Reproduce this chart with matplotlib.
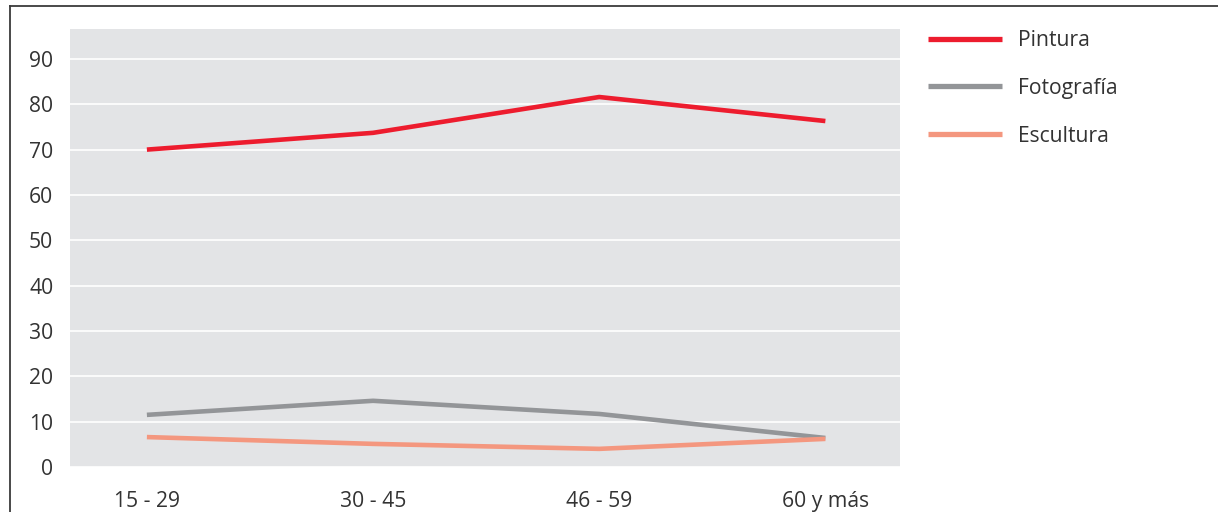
import matplotlib.pyplot as plt
from matplotlib.lines import Line2D

plt.rcParams['font.family'] = ['Open Sans', 'DejaVu Sans']

# datos
edades = ['15 - 29', '30 - 45', '46 - 59', '60 y más']
pintura = [70.0, 73.7, 81.6, 76.3]
fotografia = [11.5, 14.6, 11.7, 6.4]
escultura = [6.6, 5.1, 4.0, 6.2]
yticks = [0, 10, 20, 30, 40, 50, 60, 70, 80, 90]

W, H = 1218, 512
fig = plt.figure(figsize=(W / 100, H / 100), dpi=100)
fs = 15.2

# area del grafico en pixeles
x0, y0, x1, y1 = 70, 29, 900, 467
ax = fig.add_axes([x0 / W, 1 - y1 / H, (x1 - x0) / W, (y1 - y0) / H])
ax.set_facecolor('#e3e4e6')

x = range(len(edades))
ax.plot(x, pintura, color='#ed1c2e', lw=3.3, label='Pintura', solid_capstyle='butt')
ax.plot(x, fotografia, color='#939598', lw=3.3, label='Fotografía', solid_capstyle='butt')
ax.plot(x, escultura, color='#f4977f', lw=3.3, label='Escultura', solid_capstyle='butt')

ax.set_xlim(-0.34, 3.33)
ax.set_ylim(0, 96.6)
ax.set_xticks(list(x))
ax.set_xticklabels(edades)
ax.set_yticks(yticks)
ax.grid(axis='y', color='white', lw=1.2)
ax.set_axisbelow(True)
for s in ax.spines.values():
    s.set_visible(False)
ax.tick_params(length=0, labelsize=fs, colors='#333333')
ax.tick_params(axis='y', pad=12)
ax.tick_params(axis='x', pad=17)

leg = ax.legend(loc='upper left', bbox_to_anchor=(928 / W, 1 - 30 / H),
                bbox_transform=fig.transFigure, frameon=False, fontsize=fs,
                handlelength=3.5, handletextpad=0.75, labelspacing=1.27,
                borderpad=0, borderaxespad=0)
for t in leg.get_texts():
    t.set_color('#333333')
for l in leg.get_lines():
    l.set_linewidth(3.8)

# marco
fig.add_artist(Line2D([10 / W, 1], [1 - 6 / H, 1 - 6 / H], color='#3a3a3a', lw=1.3))
fig.add_artist(Line2D([10 / W, 10 / W], [0, 1 - 6 / H], color='#3a3a3a', lw=1.3))

fig.savefig('out.png', dpi=100)
